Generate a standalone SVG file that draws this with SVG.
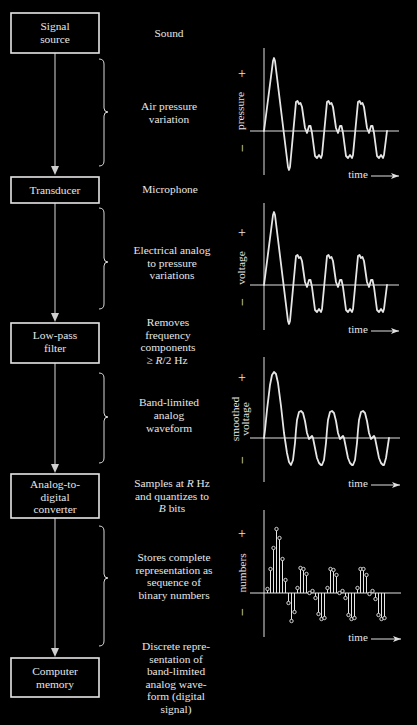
<svg xmlns="http://www.w3.org/2000/svg" xmlns:xlink="http://www.w3.org/1999/xlink" width="417" height="725" viewBox="0 0 417 725">
<style>
text{font-family:"Liberation Serif","Times New Roman",serif;font-size:11.4px;fill:#e6e6e6;text-anchor:middle}
.pm{font-size:14px}
.tm{font-size:11px}
.box{fill:#000;stroke:#e6e6e6;stroke-width:1.6}
.conn{stroke:#d8d8d8;stroke-width:1;fill:none}
.head{fill:#cfcfcf}
.brace{stroke:#d8d8d8;stroke-width:1;fill:none}
.axis{stroke:#e0e0e0;stroke-width:1;fill:none}
.wave{stroke:#e6e6e6;stroke-width:1.8;fill:none;stroke-linejoin:round;stroke-linecap:round}
.stem{stroke:#e6e6e6;stroke-width:1;fill:none}
.dot{fill:#000;stroke:#e6e6e6;stroke-width:0.9}
.tarrow{stroke:#e0e0e0;stroke-width:1;fill:none}
</style>
<defs>
<marker id="ta" viewBox="0 0 8 6" refX="8" refY="3" markerWidth="8" markerHeight="6" markerUnits="userSpaceOnUse" orient="auto">
<path d="M0,0 L8,3 L0,6 L2,3 Z" fill="#e0e0e0"/>
</marker>
<polyline id="wave1" class="wave" points="0,0 9,-70 10,-73 11,-70 24,36 25,39 26,36 32,-29 33.5,-30 35,-27 36.5,-28 38,-24 41,-3 43,2 45,-5 46.5,-5 48,2 51,25 53,27 55,24 57,27 58,24 63,-29 64.5,-30 66,-27 67.5,-28 69,-24 72,-3 74,2 76,-5 77.5,-5 79,2 82,25 84,27 86,24 88,27 89,24 94,-29 95.5,-30 97,-27 98.5,-28 100,-24 103,-3 105,2 107,-5 108.5,-5 110,2 113,25 115,27 117,24 119,27 120,24 123,0"/>
</defs>
<rect x="0" y="0" width="417" height="725" fill="#000"/>

<g id="connectors">
<path class="conn" d="M55,53 V167"/>
<path class="conn" d="M55,203 V314"/>
<path class="conn" d="M55,363 V465"/>
<path class="conn" d="M55,518 V649"/>
<path class="head" d="M51,166 L59,166 L55,175 Z"/>
<path class="head" d="M51,313 L59,313 L55,322 Z"/>
<path class="head" d="M51,464 L59,464 L55,473 Z"/>
<path class="head" d="M51,648 L59,648 L55,657 Z"/>
<path class="brace" d="M99,59 Q104,59 104,64 L104,108 Q104,112 108,112 Q104,112 104,116 L104,161 Q104,166 99,166"/>
<path class="brace" d="M99,208 Q104,208 104,213 L104,258 Q104,262 108,262 Q104,262 104,266 L104,304 Q104,309 99,309"/>
<path class="brace" d="M99,373 Q104,373 104,378 L104,413 Q104,417 108,417 Q104,417 104,421 L104,458 Q104,463 99,463"/>
<path class="brace" d="M99,526 Q104,526 104,531 L104,574 Q104,578 108,578 Q104,578 104,582 L104,641 Q104,646 99,646"/>
</g>

<g id="signal-source">
<rect class="box" x="11" y="13" width="88" height="40"/>
<text x="55" y="30">Signal</text>
<text x="55" y="43">source</text>
</g>
<g id="transducer">
<rect class="box" x="11" y="177" width="88" height="26"/>
<text x="55" y="194">Transducer</text>
</g>
<g id="low-pass-filter">
<rect class="box" x="11" y="323" width="88" height="40"/>
<text x="55" y="339">Low-pass</text>
<text x="55" y="352">filter</text>
</g>
<g id="adc">
<rect class="box" x="11" y="474" width="88" height="44"/>
<text x="55" y="488">Analog-to-</text>
<text x="55" y="500.5">digital</text>
<text x="55" y="513">converter</text>
</g>
<g id="computer-memory">
<rect class="box" x="11" y="658" width="88" height="39"/>
<text x="55" y="675">Computer</text>
<text x="55" y="688">memory</text>
</g>

<g id="descriptions">
<text x="169" y="37">Sound</text>
<text x="169" y="110">Air pressure</text>
<text x="169" y="122.5">variation</text>
<text x="170" y="193">Microphone</text>
<text x="172" y="254">Electrical analog</text>
<text x="172" y="266.5">to pressure</text>
<text x="172" y="279">variations</text>
<text x="168" y="326">Removes</text>
<text x="168" y="338.5">frequency</text>
<text x="168" y="351">components</text>
<text x="167" y="363.5">≥ <tspan font-style="italic">R</tspan>/2 Hz</text>
<text x="169" y="406">Band-limited</text>
<text x="169" y="419">analog</text>
<text x="169" y="432">waveform</text>
<text x="172" y="487">Samples at <tspan font-style="italic">R</tspan> Hz</text>
<text x="172" y="499.5">and quantizes to</text>
<text x="172" y="512"><tspan font-style="italic">B</tspan> bits</text>
<text x="174" y="561">Stores complete</text>
<text x="174" y="573.5">representation as</text>
<text x="174" y="586">sequence of</text>
<text x="174" y="598.5">binary numbers</text>
<text x="176" y="650">Discrete repre-</text>
<text x="176" y="662.5">sentation of</text>
<text x="176" y="675">band-limited</text>
<text x="176" y="687.5">analog wave-</text>
<text x="176" y="700">form (digital</text>
<text x="176" y="712.5">signal)</text>
</g>

<g id="graph-pressure">
<path class="axis" d="M264,48 V175 M250,131 H399"/>
<text class="pm" x="242" y="78">+</text>
<text class="pm" transform="translate(242,148) rotate(-90)" y="4.5">−</text>
<text transform="translate(243.5,111) rotate(-90)">pressure</text>
<use xlink:href="#wave1" transform="translate(264,131)"/>
<text class="tm" x="358" y="178">time</text>
<path class="tarrow" d="M371,176 H399" marker-end="url(#ta)"/>
</g>

<g id="graph-voltage">
<path class="axis" d="M264,203 V330 M250,285 H399"/>
<text class="pm" x="242" y="237">+</text>
<text class="pm" transform="translate(242,302) rotate(-90)" y="4.5">−</text>
<text transform="translate(244.5,268) rotate(-90)">voltage</text>
<use xlink:href="#wave1" transform="translate(264,285)"/>
<text class="tm" x="358" y="333">time</text>
<path class="tarrow" d="M371,331 H399" marker-end="url(#ta)"/>
</g>

<g id="graph-smoothed">
<path class="axis" d="M264,357 V482 M250,438 H400"/>
<text class="pm" x="242" y="382">+</text>
<text class="pm" transform="translate(242,460) rotate(-90)" y="4.5">−</text>
<text transform="translate(238.5,419) rotate(-90)">smoothed<tspan x="0" dy="10">voltage</tspan></text>
<polyline class="wave" transform="translate(264,438)" points="0,0 1,-8 3,-28 6,-53 8,-63 10,-66 12,-64 14,-55 17,-32 20,-5 23,15 25,24 27,27 29,22 31,5 32,-8 33,-18 35,-26 37,-27 39,-25 41,-17 43,-5 45,1 47,-1 48,-2 49,0 51,10 53,20 55,25 57,27 58,27 60,22 62,5 63,-8 64,-18 66,-26 68,-27 70,-25 72,-17 74,-5 76,1 78,-1 79,-2 80,0 82,10 84,20 86,25 88,27 89,27 91,22 93,5 94,-8 95,-18 97,-26 99,-27 101,-25 103,-17 105,-5 107,1 109,-1 110,-2 111,0 113,10 115,20 117,25 119,27 120,27 122,20 125,0"/>
<text class="tm" x="358" y="487">time</text>
<path class="tarrow" d="M371,485 H400" marker-end="url(#ta)"/>
</g>

<g id="graph-numbers">
<path class="axis" d="M264,510 V637 M250,593 H401"/>
<text class="pm" x="242" y="538">+</text>
<text class="pm" transform="translate(242,612) rotate(-90)" y="4.5">−</text>
<text transform="translate(246,573) rotate(-90)">numbers</text>
<path class="stem" d="M267.5,593V589 M270.5,593V569 M273.5,593V548 M276.5,593V529 M279.5,593V538 M282.5,593V559 M285.5,593V580 M288.5,593V603 M291.5,593V621 M294.5,593V612 M297.5,593V588 M300.5,593V568 M303.5,593V569 M306.5,593V574 M312.5,593V591 M315.5,593V598 M318.5,593V614 M321.5,593V619 M324.5,593V618 M327.5,593V588 M330.5,593V569 M333.5,593V570 M336.5,593V575 M342.5,593V591 M345.5,593V598 M348.5,593V615 M351.5,593V619 M354.5,593V618 M357.5,593V588 M360.5,593V569 M363.5,593V569 M366.5,593V575 M369.5,593V594 M372.5,593V591 M375.5,593V599 M378.5,593V615 M381.5,593V619 M384.5,593V618"/>
<g class="dot">
<circle cx="267.5" cy="589" r="1.7"/><circle cx="270.5" cy="569" r="1.7"/><circle cx="273.5" cy="548" r="1.7"/><circle cx="276.5" cy="529" r="1.7"/><circle cx="279.5" cy="538" r="1.7"/><circle cx="282.5" cy="559" r="1.7"/><circle cx="285.5" cy="580" r="1.7"/><circle cx="288.5" cy="603" r="1.7"/><circle cx="291.5" cy="621" r="1.7"/><circle cx="294.5" cy="612" r="1.7"/>
<circle cx="297.5" cy="588" r="1.7"/><circle cx="300.5" cy="568" r="1.7"/><circle cx="303.5" cy="569" r="1.7"/><circle cx="306.5" cy="574" r="1.7"/><circle cx="309.5" cy="593" r="1.7"/><circle cx="312.5" cy="591" r="1.7"/><circle cx="315.5" cy="598" r="1.7"/><circle cx="318.5" cy="614" r="1.7"/><circle cx="321.5" cy="619" r="1.7"/><circle cx="324.5" cy="618" r="1.7"/>
<circle cx="327.5" cy="588" r="1.7"/><circle cx="330.5" cy="569" r="1.7"/><circle cx="333.5" cy="570" r="1.7"/><circle cx="336.5" cy="575" r="1.7"/><circle cx="339.5" cy="593" r="1.7"/><circle cx="342.5" cy="591" r="1.7"/><circle cx="345.5" cy="598" r="1.7"/><circle cx="348.5" cy="615" r="1.7"/><circle cx="351.5" cy="619" r="1.7"/><circle cx="354.5" cy="618" r="1.7"/>
<circle cx="357.5" cy="588" r="1.7"/><circle cx="360.5" cy="569" r="1.7"/><circle cx="363.5" cy="569" r="1.7"/><circle cx="366.5" cy="575" r="1.7"/><circle cx="369.5" cy="594" r="1.7"/><circle cx="372.5" cy="591" r="1.7"/><circle cx="375.5" cy="599" r="1.7"/><circle cx="378.5" cy="615" r="1.7"/><circle cx="381.5" cy="619" r="1.7"/><circle cx="384.5" cy="618" r="1.7"/>
</g>
<text class="tm" x="358" y="641">time</text>
<path class="tarrow" d="M371,639 H401" marker-end="url(#ta)"/>
</g>
</svg>
